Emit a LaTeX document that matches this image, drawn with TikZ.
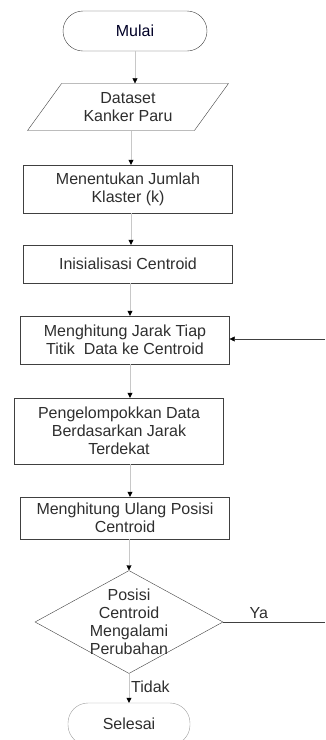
\documentclass[tikz,border=0pt]{standalone}
\usepackage{fontspec}
\setmainfont{Liberation Sans}
\usetikzlibrary{arrows.meta,shapes.geometric}

\definecolor{boxline}{HTML}{404040}
\definecolor{flowline}{HTML}{C8C8C8}
\definecolor{txt}{HTML}{2E2E2E}

\begin{document}
\begin{tikzpicture}[x=1pt, y=-1pt,
                    every node/.style={font=\fontsize{16}{18}\selectfont, text=txt, align=center},
                    terminal/.style={draw=boxline, rounded corners=20pt, minimum width=144pt, minimum height=40pt},
                    inout/.style={draw=boxline, trapezium, trapezium left angle=52, trapezium right angle=128,
                                  trapezium stretches=true, minimum width=201pt, minimum height=47pt, inner sep=0pt},
                    process/.style={draw=boxline, rectangle, minimum width=209pt, inner sep=0pt},
                    decision/.style={draw=boxline, diamond, minimum width=188pt, minimum height=103pt, inner sep=0pt},
                    flow/.style={draw=flowline, -{Triangle[length=5pt,width=5pt,black]}},
                    back/.style={draw=boxline, -{Triangle[length=5pt,width=5pt,black]}}]

\useasboundingbox (0,0) rectangle (325,740);

\node[terminal, text=black!85!blue] (start) at (135,31) {Mulai};
\node[inout] (data) at (128,107) {Dataset\\Kanker Paru};
\node[process, minimum height=48pt] (klaster) at (128,189) {Menentukan Jumlah\\Klaster (k)};
\node[process, minimum height=38pt] (init) at (128,264) {Inisialisasi Centroid};
\node[process, minimum height=48pt] (jarak) at (125,340) {Menghitung Jarak Tiap\\Titik~~Data ke Centroid};
\node[process, minimum height=66pt] (group) at (119,431) {Pengelompokkan Data\\Berdasarkan Jarak\\Terdekat};
\node[process, minimum height=42pt] (ulang) at (125,518) {Menghitung Ulang Posisi\\Centroid};
\node[decision, label={[align=center]center:Posisi\\Centroid\\Mengalami\\Perubahan}] (cek) at (129,622) {};
\node[terminal, draw=flowline!70!boxline, minimum width=122pt, minimum height=42pt] (stop) at (129,724) {Selesai};

\coordinate (loopin) at (325,339);
\coordinate (loopout) at (325,622);

\draw[flow] (start.south) -- (data.north -| start.south);
\draw[flow] (data.south -| 131,0) -- (klaster.north -| 131,0);
\draw[flow] (klaster.south -| 131,0) -- (init.north -| 131,0);
\draw[flow] (init.south -| 130,0) -- (jarak.north -| 130,0);
\draw[flow] (jarak.south -| 130,0) -- (group.north -| 130,0);
\draw[flow] (group.south -| 130,0) -- (ulang.north -| 130,0);
\draw[flow] (ulang.south -| 129,0) -- (cek.north);
\draw[flow] (cek.south) -- node[right, pos=0.45, inner sep=2pt] {Tidak} (stop.north);
\draw[draw=boxline] (cek.east) -- node[above, pos=0.35] {Ya} (loopout);
\draw[back] (loopin) -- (jarak.east |- loopin);

\end{tikzpicture}
\end{document}
